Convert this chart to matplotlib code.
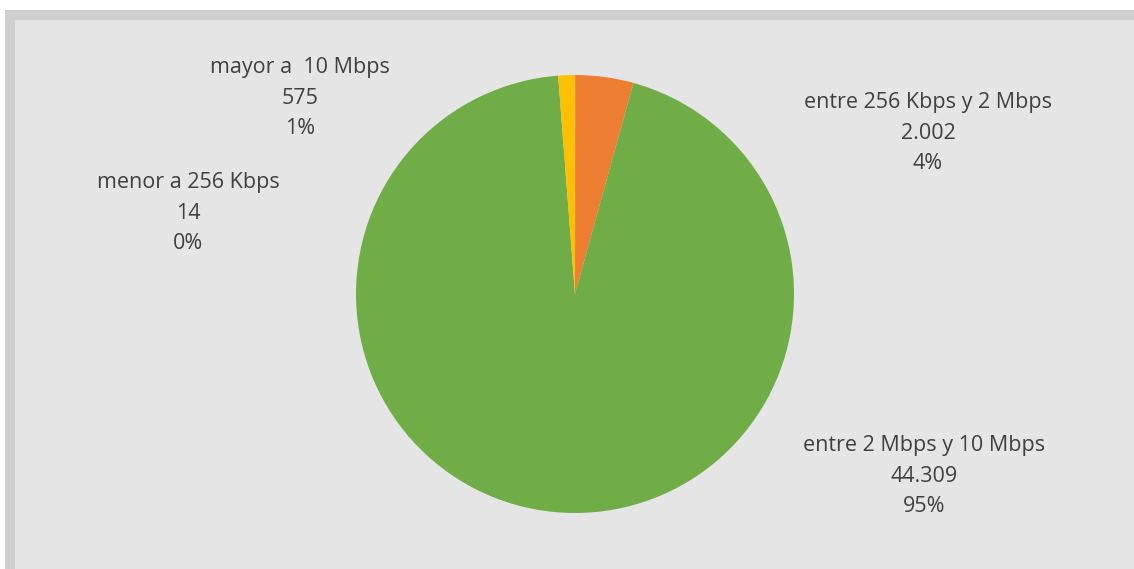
import matplotlib
matplotlib.use('Agg')
import matplotlib.pyplot as plt
from matplotlib.patches import Rectangle

# ===== 데이터 =====
categories = ["menor a 256 Kbps", "entre 256 Kbps y 2 Mbps",
              "entre 2 Mbps y 10 Mbps", "mayor a  10 Mbps"]
values = [14, 2002, 44309, 575]
pct_labels = ["0%", "4%", "95%", "1%"]
colors = ["#4472C4", "#ED7D31", "#70AD47", "#FFC000"]

# 라벨 위치 (픽셀 좌표, 위 기준)
label_pos = [(188, 213), (928, 133), (924, 476), (300, 98)]

W, H = 1134, 569
fig = plt.figure(figsize=(W / 100, H / 100), dpi=100)
fig.patch.set_facecolor("white")

ax = fig.add_axes([0, 0, 1, 1])

# y축이 뒤집혀 있으므로 startangle=-90 / 반시계 = 화면상 위에서 시계방향
ax.pie(values, colors=colors, startangle=-90, counterclock=True,
       center=(575, 294), radius=219, frame=True,
       wedgeprops=dict(linewidth=0))

# 바깥 테두리 + 배경 (축 좌표 = 픽셀)
ax.add_patch(Rectangle((5, 10), W, H, facecolor="#D0CECE",
                       edgecolor="none", zorder=-2))
ax.add_patch(Rectangle((15, 20), W, H, facecolor="#E5E5E5",
                       edgecolor="none", zorder=-1))

ax.set_xlim(0, W)
ax.set_ylim(H, 0)
ax.set_aspect("auto")
ax.axis("off")

for name, v, p, (x, y) in zip(categories, values, pct_labels, label_pos):
    txt = f"{name}\n{v:,}".replace(",", ".") + f"\n{p}"
    ax.text(x, y, txt, ha="center", va="center", fontsize=15.5,
            color="#404040", family="Open Sans", linespacing=1.6)

plt.savefig("out.png", dpi=100)
